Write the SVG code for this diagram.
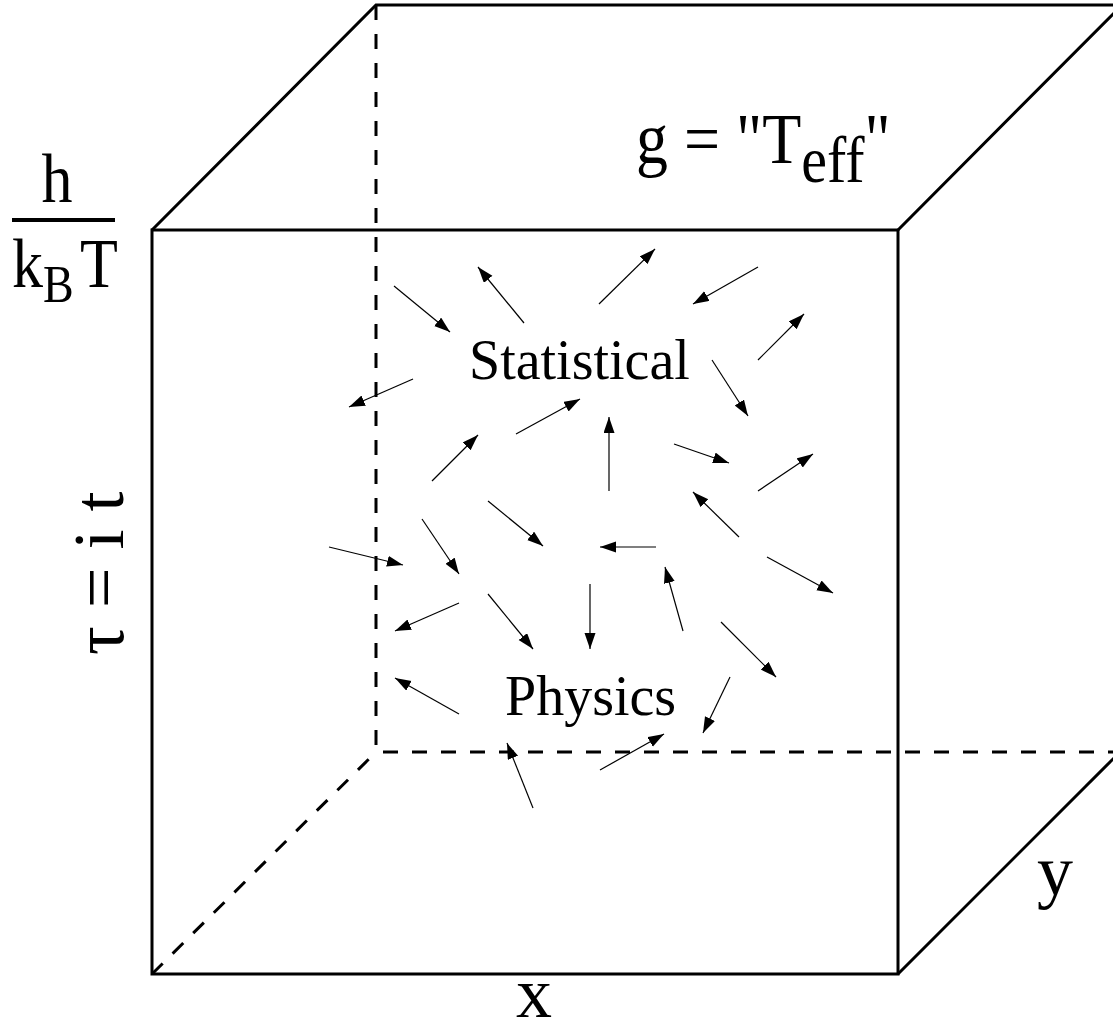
<svg xmlns="http://www.w3.org/2000/svg" width="1113" height="1026" viewBox="0 0 1113 1026">
<style>
.solid{fill:none;stroke:#000;stroke-width:3;stroke-linejoin:miter}
.dash{fill:none;stroke:#000;stroke-width:3;stroke-dasharray:15 14}
.arr{stroke:#000;stroke-width:1.2;fill:none;marker-end:url(#ah)}
text{font-family:"Liberation Serif","Times New Roman",serif;fill:#000}
.big{font-size:72px}
.mid{font-size:56px}
</style>
<defs>
<marker id="ah" markerUnits="userSpaceOnUse" markerWidth="17" markerHeight="12" refX="16" refY="5.5" orient="auto">
<path d="M0,0 L16,5.5 L0,11 Z" fill="#000"/>
</marker>
</defs>
<rect width="1113" height="1026" fill="#fff"/>
<g id="cube">
<path class="dash" d="M376,5 L376,752 L1113,752"/>
<path class="dash" d="M152,974 L376,752"/>
<path class="solid" d="M152,230 L898,230 L898,974 L152,974 Z"/>
<path class="solid" d="M152,230 L376,5 L1122,5 L898,230"/>
<path class="solid" d="M898,974 L1120,752"/>
</g>
<g id="connectors">
<line class="arr" x1="394" y1="286" x2="450" y2="332"/>
<line class="arr" x1="524" y1="323" x2="478" y2="267"/>
<line class="arr" x1="413" y1="379" x2="349" y2="407"/>
<line class="arr" x1="432" y1="481" x2="478" y2="435"/>
<line class="arr" x1="516" y1="434" x2="580" y2="399"/>
<line class="arr" x1="599" y1="304" x2="655" y2="249"/>
<line class="arr" x1="758" y1="267" x2="693" y2="304"/>
<line class="arr" x1="758" y1="360" x2="804" y2="314"/>
<line class="arr" x1="712" y1="360" x2="748" y2="416"/>
<line class="arr" x1="609" y1="491" x2="609" y2="417"/>
<line class="arr" x1="674" y1="444" x2="729" y2="463"/>
<line class="arr" x1="758" y1="491" x2="813" y2="454"/>
<line class="arr" x1="488" y1="501" x2="543" y2="546"/>
<line class="arr" x1="422" y1="519" x2="459" y2="574"/>
<line class="arr" x1="329" y1="547" x2="403" y2="565"/>
<line class="arr" x1="459" y1="603" x2="395" y2="631"/>
<line class="arr" x1="488" y1="594" x2="533" y2="649"/>
<line class="arr" x1="459" y1="714" x2="395" y2="678"/>
<line class="arr" x1="533" y1="808" x2="507" y2="743"/>
<line class="arr" x1="739" y1="537" x2="693" y2="492"/>
<line class="arr" x1="656" y1="547" x2="600" y2="547"/>
<line class="arr" x1="767" y1="557" x2="833" y2="593"/>
<line class="arr" x1="590" y1="584" x2="590" y2="649"/>
<line class="arr" x1="683" y1="631" x2="665" y2="567"/>
<line class="arr" x1="721" y1="622" x2="776" y2="677"/>
<line class="arr" x1="730" y1="677" x2="703" y2="733"/>
<line class="arr" x1="600" y1="770" x2="664" y2="734"/>
</g>
<g id="labels">
<text class="mid" x="469" y="379">Statistical</text>
<text class="mid" x="505" y="715">Physics</text>
<text font-size="64" transform="translate(0,163) scale(1,1.12) translate(0,-163)" x="636" y="163">g = &quot;T<tspan font-size="58" dy="17">eff</tspan><tspan dy="-17">&quot;</tspan></text>
<text font-size="62" transform="translate(0,202) scale(1,1.13) translate(0,-202)" x="57" y="202" text-anchor="middle">h</text>
<line x1="12" y1="220" x2="115" y2="220" stroke="#000" stroke-width="4"/>
<text font-size="62" transform="translate(0,287) scale(1,1.13) translate(0,-287)" x="12" y="287">k<tspan font-size="46" x="43" dy="13">B</tspan><tspan x="80" dy="-13">T</tspan></text>
<text class="big" transform="translate(123,655) rotate(-90)">τ = i t</text>
<text class="big" x="516" y="1017">x</text>
<text class="big" x="1037" y="895">y</text>
</g>
</svg>
